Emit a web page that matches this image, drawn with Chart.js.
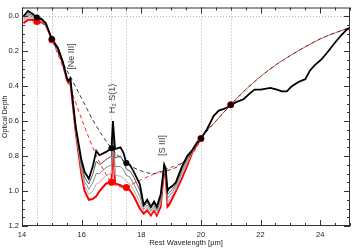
<!DOCTYPE html>
<html>
<head>
<meta charset="utf-8">
<script src="https://cdn.jsdelivr.net/npm/chart.js@4"></script>
<style>
  html, body { margin: 0; padding: 0; background: #fff; }
  #wrap { width: 354px; height: 248px; }
</style>
</head>
<body>
<div id="wrap"><canvas id="chart" width="354" height="248"></canvas></div>
<script>
// wavelength grid of the spectra (micron)
const wl = [14.05, 14.2, 14.35, 14.5, 14.65, 14.8, 15.0, 15.2, 15.37, 15.5, 15.55, 15.62, 15.7, 15.8,
  15.99, 16.1, 16.24, 16.38, 16.49, 16.6, 16.82, 17.0, 17.05, 17.12, 17.3, 17.4, 17.5, 17.62, 17.75,
  17.95, 18.08, 18.2, 18.32, 18.43, 18.52, 18.65, 18.77, 18.82, 18.88, 18.93, 19.05, 19.16, 19.27,
  19.38, 19.54, 19.71, 19.88, 20.0,
  20.21, 20.43, 20.6, 20.77, 20.88, 21.0, 21.2, 21.43, 21.65, 21.8, 22.0, 22.33, 22.55, 22.72, 22.88,
  23.05, 23.27, 23.5, 23.66, 23.82, 24.05, 24.27, 24.5, 24.72, 24.88, 25.0];

// observed optical depth (black, full range)
const tauBlack = [0.00, -0.03, -0.015, 0.007, 0.015, 0.04, 0.13, 0.18, 0.26, 0.35, 0.37, 0.355, 0.48, 0.63,
  0.82, 0.89, 0.93, 0.855, 0.77, 0.795, 0.776, 0.755, 0.60, 0.76, 0.75, 0.78, 0.84, 0.85, 0.89,
  0.96, 1.08, 1.05, 1.09, 1.06, 1.09, 1.02, 0.85, 0.87, 1.00, 0.985, 0.97, 0.95, 0.90,
  0.855, 0.80, 0.765, 0.72, 0.70,
  0.645, 0.57, 0.54, 0.53, 0.522, 0.507, 0.49, 0.475, 0.44, 0.42, 0.42, 0.41, 0.42, 0.43, 0.43,
  0.40, 0.376, 0.36, 0.31, 0.28, 0.246, 0.20, 0.15, 0.106, 0.078, 0.065];

// the other versions only differ short of 20 micron
const tauGray1 = [0.01, -0.015, -0.005, 0.013, 0.02, 0.043, 0.13, 0.181, 0.263, 0.353, 0.373, 0.359, 0.485, 0.638,
  0.84, 0.92, 0.96, 0.90, 0.83, 0.85, 0.82, 0.80, 0.63, 0.81, 0.80, 0.83, 0.875, 0.885, 0.92,
  0.995, 1.09, 1.065, 1.10, 1.07, 1.10, 1.04, 0.855, 0.88, 1.02, 1.01, 0.99, 0.96, 0.915,
  0.87, 0.815, 0.77, 0.72, 0.70];
const tauGray2 = [0.02, -0.005, 0.003, 0.018, 0.025, 0.045, 0.13, 0.183, 0.265, 0.355, 0.375, 0.362, 0.49, 0.645,
  0.86, 0.945, 0.99, 0.95, 0.90, 0.90, 0.865, 0.85, 0.66, 0.86, 0.86, 0.875, 0.91, 0.92, 0.96,
  1.03, 1.105, 1.08, 1.115, 1.085, 1.115, 1.055, 0.86, 0.895, 1.045, 1.03, 1.005, 0.975, 0.93,
  0.885, 0.83, 0.775, 0.725, 0.70];
const tauGray3 = [0.03, 0.005, 0.01, 0.024, 0.03, 0.048, 0.13, 0.184, 0.268, 0.357, 0.378, 0.366, 0.495, 0.652,
  0.88, 0.97, 1.02, 1.00, 0.96, 0.95, 0.91, 0.90, 0.69, 0.91, 0.915, 0.925, 0.945, 0.96, 0.995,
  1.065, 1.12, 1.095, 1.13, 1.10, 1.13, 1.07, 0.865, 0.91, 1.07, 1.055, 1.02, 0.99, 0.945,
  0.90, 0.84, 0.78, 0.728, 0.70];
const tauRed = [0.04, 0.02, 0.02, 0.03, 0.035, 0.05, 0.13, 0.185, 0.27, 0.36, 0.38, 0.37, 0.50, 0.66,
  0.90, 1.00, 1.05, 1.045, 1.03, 1.00, 0.957, 0.95, 0.72, 0.957, 0.967, 0.975, 0.98, 0.995, 1.03,
  1.10, 1.13, 1.11, 1.14, 1.11, 1.14, 1.09, 0.87, 0.92, 1.09, 1.08, 1.04, 1.00, 0.96,
  0.92, 0.855, 0.78, 0.73, 0.705];

// continuum anchor points
const anchorWl = [14.5, 15.0, 17.0, 17.5, 20.0, 21.0];
const anchorBlack = [0.007, 0.13, 0.755, 0.84, 0.70, 0.507];
const anchorRed = [0.03, 0.135, 0.95, 0.98, 0.70, 0.507];

// spline continua (dashed)
const contBlackWl = [15.0, 15.38, 15.54, 16.0, 16.43, 17.0, 17.5, 18.0, 18.4, 18.7, 19.16, 19.6, 20.0];
const contBlack = [0.13, 0.27, 0.32, 0.47, 0.61, 0.755, 0.84, 0.885, 0.90, 0.89, 0.865, 0.80, 0.70];
const contRedWl = [15.0, 15.3, 15.54, 16.05, 16.5, 16.82, 17.0, 17.5, 17.7, 18.0, 18.4, 18.9, 19.3, 19.6, 19.85, 20.0];
const contRed = [0.13, 0.26, 0.37, 0.61, 0.80, 0.905, 0.95, 0.98, 0.96, 0.935, 0.905, 0.87, 0.845, 0.805, 0.755, 0.70];
const contTailWl = [20.5, 21.0, 21.5, 22.0, 22.5, 23.0, 23.5, 24.0, 24.5, 25.0];
const contTail = [0.60, 0.507, 0.42, 0.345, 0.28, 0.225, 0.175, 0.13, 0.095, 0.065];

// line identifications
const lineNames = ['[Ne III]', 'H\u2082 S(1)', '[S III]'];
const lineWl = [15.67, 17.03, 18.72];
const lineTau = [0.23, 0.47, 0.74];

const FONT = "'Liberation Sans', Arial, sans-serif";
const xy = (xs, ys) => ys.map((v, i) => ({ x: xs[i], y: v }));

const line = (label, data, color, width, extra) => Object.assign({
  label, data, borderColor: color, backgroundColor: color, borderWidth: width,
  pointRadius: 0, tension: 0, fill: false
}, extra || {});

const dashed = (label, data, color, offset) => line(label, data, color, 1, {
  borderDash: [4, 3], borderDashOffset: offset, cubicInterpolationMode: 'monotone'
});

const dots = (label, data, color, r) => line(label, data, color, 0, {
  showLine: false, pointRadius: r, pointBorderWidth: 0, pointBackgroundColor: color
});

const decor = {
  id: 'decor',
  beforeDatasetsDraw(chart) {
    const { ctx, chartArea: a, scales: { x, y } } = chart;
    ctx.save();
    ctx.strokeStyle = '#b4b4b4';
    ctx.lineWidth = 1;
    ctx.setLineDash([1, 2]);
    ctx.beginPath();
    anchorWl.forEach(w => {
      const px = Math.round(x.getPixelForValue(w)) + 0.5;
      ctx.moveTo(px, a.top); ctx.lineTo(px, a.bottom);
    });
    const py = Math.round(y.getPixelForValue(0)) + 0.5;
    ctx.moveTo(a.left, py); ctx.lineTo(a.right, py);
    ctx.stroke();
    ctx.restore();
  },
  afterDraw(chart) {
    const { ctx, chartArea: a, scales: { x, y } } = chart;
    ctx.save();
    ctx.strokeStyle = '#333';
    ctx.lineWidth = 1;
    ctx.strokeRect(a.left + 0.5, a.top + 0.5, a.right - a.left - 1, a.bottom - a.top - 1);
    ctx.beginPath();
    // x ticks every 0.5, long ones on the labelled values
    for (let k = 0; k <= 22; k++) {
      const px = Math.round(x.getPixelForValue(14 + k * 0.5)) + 0.5;
      const len = k % 4 === 0 ? 6 : 3;
      ctx.moveTo(px, a.bottom); ctx.lineTo(px, a.bottom - len);
      ctx.moveTo(px, a.top); ctx.lineTo(px, a.top + len);
    }
    // y ticks every 0.05
    for (let k = 0; k <= 24; k++) {
      const py = Math.round(y.getPixelForValue(k * 0.05)) + 0.5;
      const len = k % 4 === 0 ? 6 : 3;
      ctx.moveTo(a.left, py); ctx.lineTo(a.left + len, py);
      ctx.moveTo(a.right, py); ctx.lineTo(a.right - len, py);
    }
    ctx.stroke();

    ctx.fillStyle = '#3a3a3a';
    ctx.font = '9px ' + FONT;
    ctx.textAlign = 'center';
    ctx.textBaseline = 'middle';
    lineNames.forEach((t, i) => {
      ctx.save();
      ctx.translate(x.getPixelForValue(lineWl[i]), y.getPixelForValue(lineTau[i]));
      ctx.rotate(-Math.PI / 2);
      ctx.fillText(t, 0, 0);
      ctx.restore();
    });
    ctx.restore();
  }
};

new Chart(document.getElementById('chart'), {
  type: 'line',
  data: {
    datasets: [
      dots('Anchors', xy(anchorWl, anchorBlack), '#000', 3),
      dots('Anchors (corr.)', xy(anchorWl, anchorRed), '#ff0000', 3.5),
      line('Spectrum', xy(wl, tauBlack), '#000', 1.8),
      dashed('Continuum', xy(contBlackWl.concat(contTailWl), contBlack.concat(contTail)), '#333', 0),
      dashed('Continuum (corr.)', xy(contRedWl.concat(contTailWl), contRed.concat(contTail)), '#ff2020', 3.5),
      line('Step 1', xy(wl, tauGray1), '#555', 1),
      line('Step 2', xy(wl, tauGray2), '#888', 1),
      line('Step 3', xy(wl, tauGray3), '#b0b0b0', 1),
      line('Corrected', xy(wl, tauRed), '#ff0000', 2)
    ]
  },
  options: {
    responsive: false,
    animation: false,
    events: [],
    layout: { padding: { left: 0, right: 2, top: 2, bottom: 0 } },
    plugins: { legend: { display: false }, tooltip: { enabled: false } },
    scales: {
      x: {
        type: 'linear', min: 14, max: 25,
        grid: { display: false, drawTicks: false },
        border: { display: false },
        ticks: { stepSize: 2, includeBounds: false, padding: 4, color: '#222', maxRotation: 0,
                 autoSkip: false, font: { family: FONT, size: 7.5 } },
        title: { display: true, text: 'Rest Wavelength [\u00b5m]', color: '#222',
                 font: { family: FONT, size: 7.5 }, padding: { top: 0, bottom: 1 } },
        afterFit: s => { s.height = 22; }
      },
      y: {
        type: 'linear', reverse: true, min: -0.05, max: 1.2,
        grid: { display: false, drawTicks: false },
        border: { display: false },
        ticks: { stepSize: 0.2, includeBounds: false, padding: 3, color: '#222',
                 font: { family: FONT, size: 7.5 }, callback: v => v.toFixed(1) },
        title: { display: true, text: 'Optical Depth', color: '#222',
                 font: { family: FONT, size: 7 }, padding: { top: 1, bottom: 0 } },
        afterFit: s => { s.width = 22; }
      }
    }
  },
  plugins: [decor]
});
</script>
</body>
</html>
